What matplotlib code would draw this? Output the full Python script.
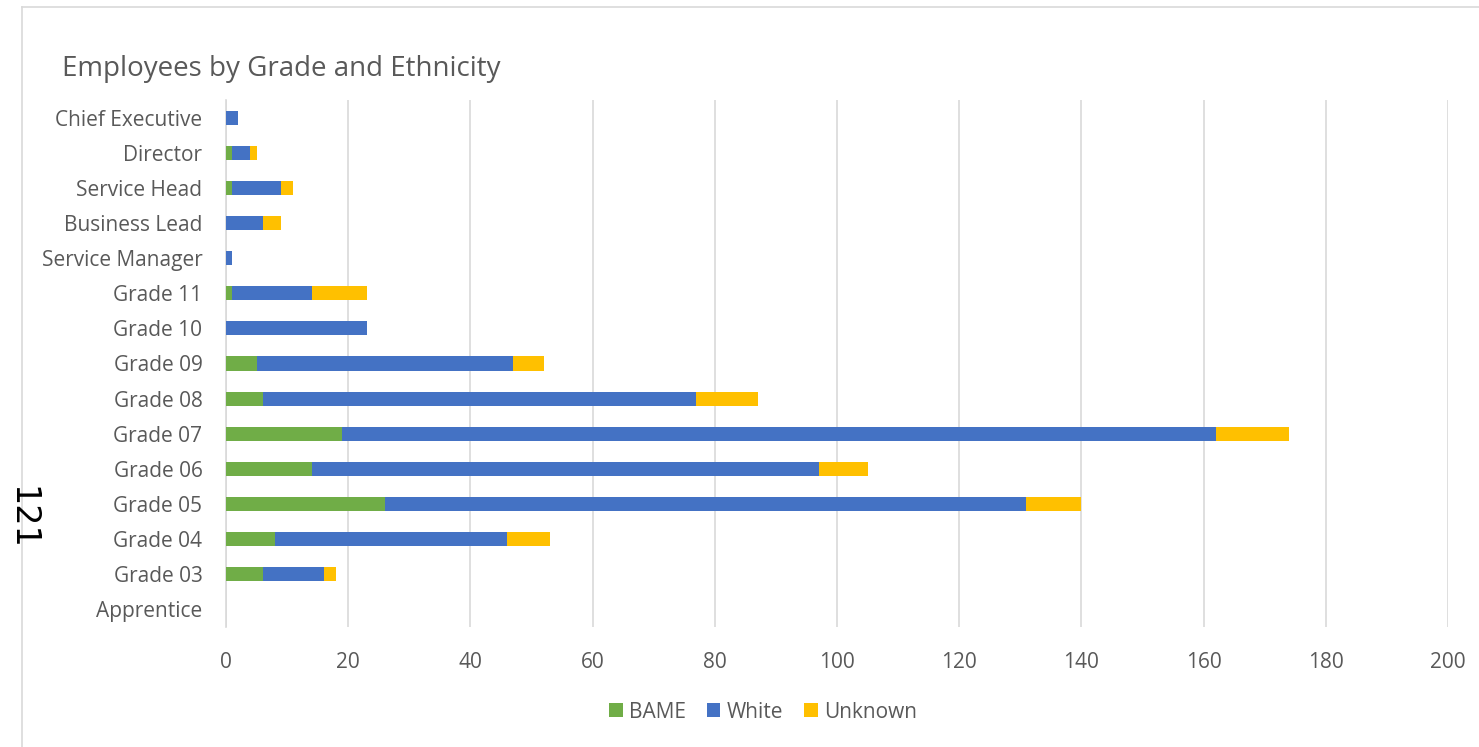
import matplotlib.pyplot as plt
import numpy as np

# Categories (top to bottom as shown)
grades = ["Chief Executive", "Director", "Service Head", "Business Lead",
          "Service Manager", "Grade 11", "Grade 10", "Grade 09", "Grade 08",
          "Grade 07", "Grade 06", "Grade 05", "Grade 04", "Grade 03", "Apprentice"]
bame = [0, 1, 1, 0, 0, 1, 0, 5, 6, 19, 14, 26, 8, 6, 0]
white = [2, 3, 8, 6, 1, 13, 23, 42, 71, 143, 83, 105, 38, 10, 0]
unknown = [0, 1, 2, 3, 0, 9, 0, 5, 10, 12, 8, 9, 7, 2, 0]

plt.rcParams['font.family'] = ['Open Sans', 'DejaVu Sans']

fig = plt.figure(figsize=(14.79, 7.47), dpi=100)
ax = fig.add_axes([226 / 1479, 1 - 627 / 747, (1448 - 226) / 1479, (627 - 100) / 747])

y = np.arange(len(grades))
bame_a = np.array(bame)
white_a = np.array(white)
unk_a = np.array(unknown)

ax.barh(y, bame_a, height=0.4, color='#70AD47', label='BAME', zorder=3)
ax.barh(y, white_a, left=bame_a, height=0.4, color='#4472C4', label='White', zorder=3)
ax.barh(y, unk_a, left=bame_a + white_a, height=0.4, color='#FFC000', label='Unknown', zorder=3)

ax.set_xlim(0, 200)
ax.set_ylim(len(grades) - 0.5, -0.5)
ax.set_yticks(y)
ax.set_yticklabels(grades)
ax.set_xticks(np.arange(0, 201, 20))
ax.tick_params(axis='both', length=0, labelsize=15, labelcolor='#595959')
ax.tick_params(axis='x', pad=18)
ax.tick_params(axis='y', pad=17)
ax.grid(axis='x', color='#D9D9D9', linewidth=1.2, zorder=0)
for s in ['top', 'right', 'bottom']:
    ax.spines[s].set_visible(False)
ax.spines['left'].set_color('#D9D9D9')
ax.spines['left'].set_linewidth(1.2)

fig.text(62 / 1479, 1 - 69 / 747, 'Employees by Grade and Ethnicity', fontsize=20,
         color='#595959', va='center', ha='left')

fig.legend(loc='center', bbox_to_anchor=(763 / 1479, 1 - 712 / 747), ncol=3, frameon=False,
           fontsize=15, labelcolor='#595959', handlelength=0.65, handleheight=0.65,
           handletextpad=0.3, columnspacing=1.0)

# chart area border and side page number
fig.add_artist(plt.Line2D([22 / 1479, 22 / 1479], [0, 1 - 7 / 747], color='#D9D9D9', linewidth=1.2))
fig.add_artist(plt.Line2D([22 / 1479, 1], [1 - 7 / 747, 1 - 7 / 747], color='#D9D9D9', linewidth=1.2))
fig.text(22 / 1479, 1 - 518 / 747, '121', fontsize=24, rotation=-90, color='black',
         ha='center', va='center', family='DejaVu Sans')

fig.savefig('out.png', dpi=100)
